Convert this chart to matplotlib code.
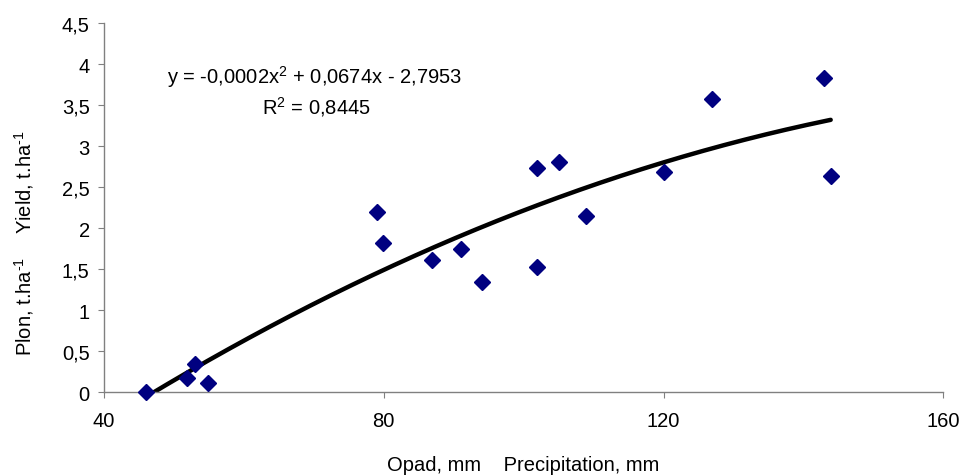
#!/usr/bin/env python3
"""Plon vs. opad: bodovy graf s polynomickym trendem 2. radu."""
import matplotlib
matplotlib.use("Agg")
import matplotlib.pyplot as plt
from matplotlib.ticker import FuncFormatter
import numpy as np

plt.rcParams['font.family'] = ['Liberation Sans', 'DejaVu Sans']
plt.rcParams['mathtext.fontset'] = 'custom'
plt.rcParams['mathtext.rm'] = 'Liberation Sans'
plt.rcParams['mathtext.it'] = 'Liberation Sans'

# opad (mm) a plon (t/ha)
opad = [46, 51.9, 53, 54.9, 79, 79.9, 86.9, 91, 94.1, 101.9, 101.9,
        105, 108.9, 120, 127, 142.9, 143.9]
plon = [0.0, 0.18, 0.345, 0.11, 2.2, 1.815, 1.616, 1.746, 1.348, 1.53, 2.733,
        2.806, 2.152, 2.684, 3.574, 3.83, 2.636]

eq_text = r"y = -0,0002x$^{\text{2}}$ + 0,0674x - 2,7953"
r2_text = r"R$^{\text{2}}$ = 0,8445"
ylab_cz = r"Plon, t.ha$^{\text{-1}}$"
ylab_en = r"Yield, t.ha$^{\text{-1}}$"

FS = 14.5

x = np.array(opad)
y = np.array(plon)
coef = np.polyfit(x, y, 2)
xs = np.linspace(x.min(), x.max(), 200)
ys = np.polyval(coef, xs)

fig = plt.figure(figsize=(9.62, 4.77), dpi=100)
ax = fig.add_axes([104 / 962, 1 - 393.3 / 477, (943.3 - 104) / 962, (393.3 - 24) / 477])

ax.plot(xs, ys, color="black", lw=3.2, solid_capstyle="round", zorder=2)
ax.plot(x, y, linestyle="none", marker="D", ms=8.5, color="#000080", zorder=3, clip_on=False)

ax.set_xlim(40, 160)
ax.set_ylim(0, 4.5)
ax.set_xticks([40, 80, 120, 160])
ax.set_yticks(np.arange(0, 4.51, 0.5))
ax.yaxis.set_major_formatter(FuncFormatter(lambda v, p: ("%g" % v).replace(".", ",")))

for s in ("top", "right"):
    ax.spines[s].set_visible(False)
for s in ("left", "bottom"):
    ax.spines[s].set_color("#808080")
    ax.spines[s].set_linewidth(1.0)
ax.tick_params(direction="out", length=4.3, color="#808080", labelsize=FS)
ax.tick_params(axis="y", pad=6)
ax.tick_params(axis="x", pad=9)

fig.text(315 / 962, 1 - 77 / 477, eq_text, ha="center", va="center", fontsize=FS)
fig.text(316 / 962, 1 - 107 / 477, r2_text, ha="center", va="center", fontsize=FS)

fig.text(24 / 962, 1 - 306 / 477, ylab_cz, rotation=90, ha="center", va="center", fontsize=FS)
fig.text(24 / 962, 1 - 182 / 477, ylab_en, rotation=90, ha="center", va="center", fontsize=FS)
fig.text(523 / 962, 1.5 / 477, "Opad, mm    Precipitation, mm", ha="center", va="bottom", fontsize=FS)

fig.savefig("out.png", dpi=100)
